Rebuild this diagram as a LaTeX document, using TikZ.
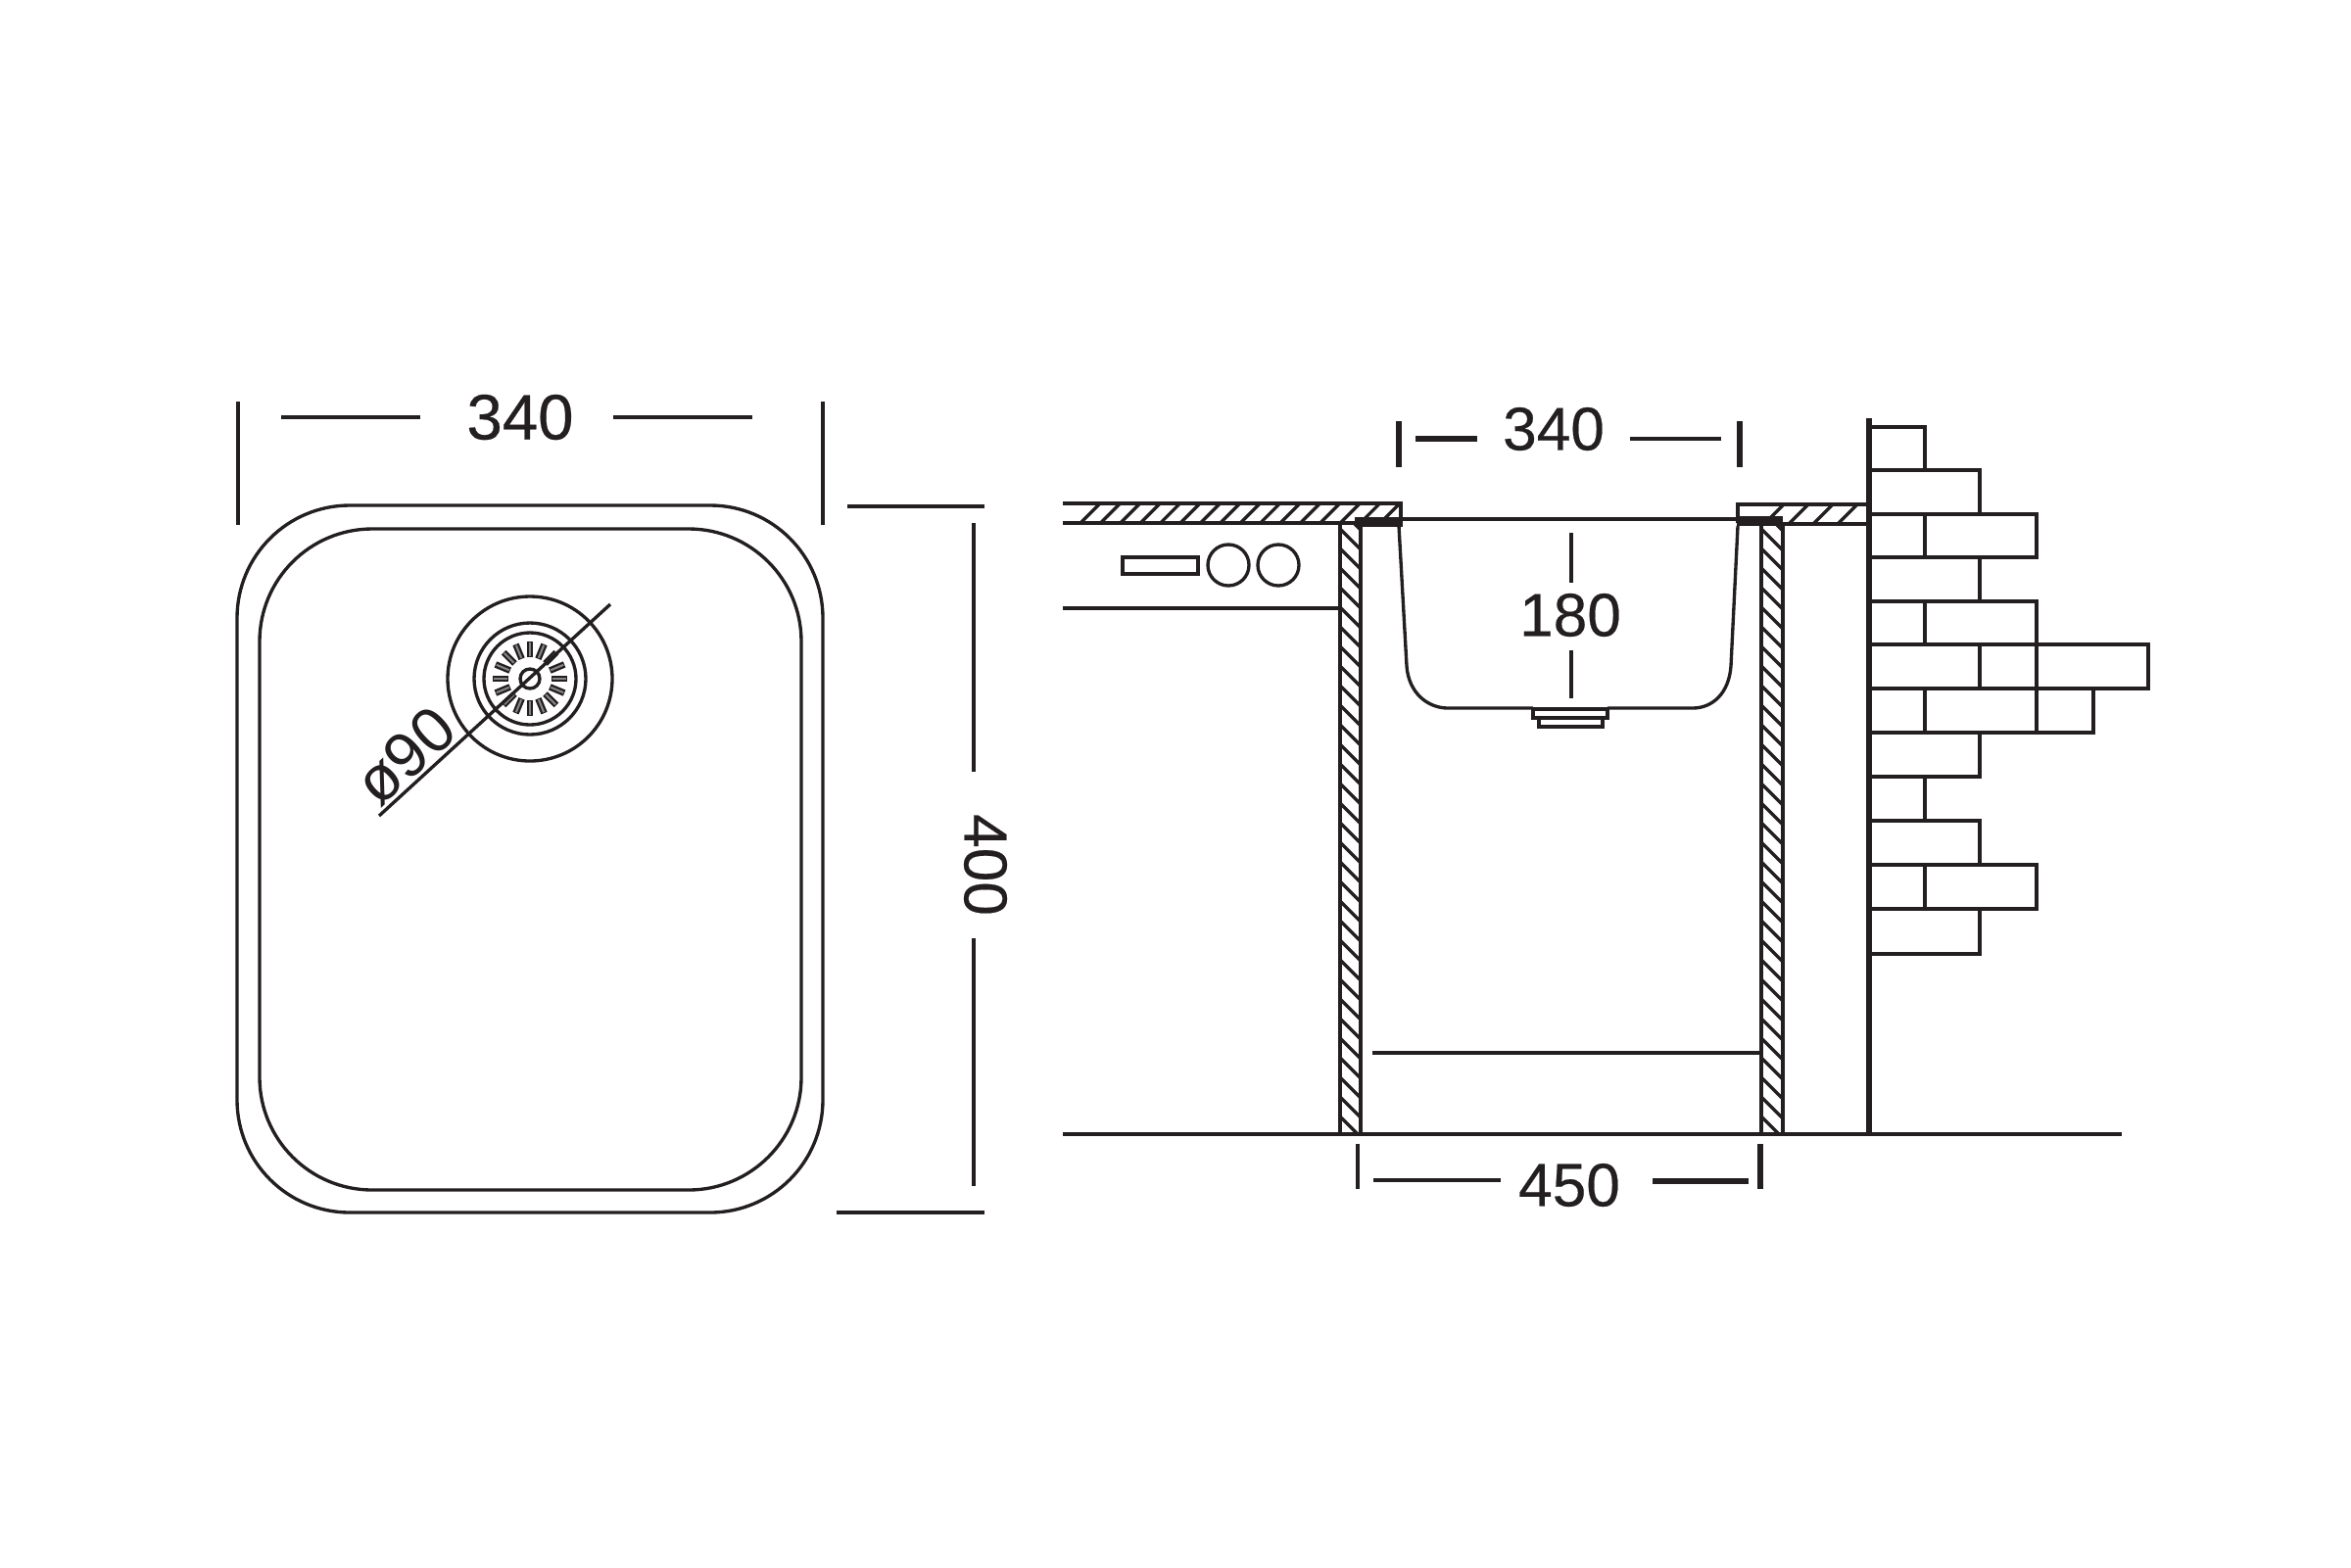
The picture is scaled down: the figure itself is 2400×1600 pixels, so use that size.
\documentclass[tikz,border=0pt]{standalone}
\usepackage{fontspec}
\setmainfont{Liberation Sans}
\newfontfamily\dimfont[FakeBold=0.35]{Liberation Sans}
\definecolor{inkline}{HTML}{231F20}
\tikzset{
  sinkline/.style={draw=inkline,line width=0.95pt},
  dimthin/.style={draw=inkline,line width=0.9pt},
  dimthick/.style={draw=inkline,line width=1.5pt},
  brick/.style={draw=inkline,line width=1.3pt},
  hatch/.style={draw=inkline,line width=0.95pt},
  frame/.style={draw=inkline,line width=1.4pt},
  dimlabel/.style={inner sep=0pt,text=inkline,font=\dimfont\fontsize{18.6}{20}\selectfont},
  sidelabel/.style={inner sep=0pt,text=inkline,font=\dimfont\fontsize{17.7}{20}\selectfont},
}
\begin{document}
\begin{tikzpicture}[x=0.1mm,y=-0.1mm]
\useasboundingbox (0,0) rectangle (2400,1600);

\draw [sinkline,rounded corners=11.5mm] (242,516) rectangle (840,1238);
\draw [sinkline,rounded corners=11.5mm] (265,540) rectangle (818,1215);

\draw [sinkline] (541,693) circle (84);
\draw [sinkline] (541,693) circle (57);
\draw [sinkline] (541,693) circle (47);
\draw [sinkline] (541,693) circle (10);
\foreach \a in {0,22.5,...,337.5} {
  \draw [draw=inkline,line width=1.9pt] ([shift={(\a:22)}]541,693) -- ([shift={(\a:38)}]541,693);
  \draw [draw=inkline!55,line width=0.6pt] ([shift={(\a:23)}]541,693) -- ([shift={(\a:37)}]541,693);
}
\draw [sinkline] (387,833) -- (623,617);
\node (dia) [inner sep=0pt,text=inkline,rotate=42.5,font=\fontsize{18.4}{20}\selectfont] at (414,772) {ø90};

\node (top) [dimlabel] at (531,426) {340};
\draw [dimthin] (243,410) -- (243,536);
\draw [dimthin] (840,410) -- (840,536);
\draw [dimthin] (287,426) -- (429,426);
\draw [dimthin] (626,426) -- (768,426);

\node (side) [sidelabel,rotate=-90] at (1006,883) {400};
\draw [dimthin] (865,517) -- (1005,517);
\draw [dimthin] (854,1238) -- (1005,1238);
\draw [dimthin] (994,534) -- (994,788);
\draw [dimthin] (994,958) -- (994,1211);

\begin{scope}
\clip (1085,514) rectangle (1430,534);
\foreach \x in {1101,1121.4,...,1430}
  \draw [hatch] (\x,536) -- (\x+22,514);
\end{scope}
\begin{scope}
\clip (1776,515) rectangle (1907,535);
\foreach \x in {1800,1825,1850,1875}
  \draw [hatch] (\x,536) -- (\x+21,515);
\end{scope}
\begin{scope}
\clip (1368,536) rectangle (1389,1158);
\foreach \y in {520,540,...,1160}
  \draw [hatch] (1368,\y) -- (1389,\y+21);
\end{scope}
\begin{scope}
\clip (1798,536) rectangle (1820,1158);
\foreach \y in {520,540,...,1160}
  \draw [hatch] (1798,\y) -- (1820,\y+22);
\end{scope}

\draw [frame] (1085,514) -- (1430,514) -- (1430,534);
\draw [frame] (1085,534) -- (1430,534);
\draw [frame] (1907,515) -- (1774,515) -- (1774,534);
\draw [frame] (1820,535) -- (1907,535);
\fill [inkline] (1383,528) rectangle (1432,538);
\fill [inkline] (1773,527) rectangle (1820,537);
\draw [sinkline,line width=1.2pt] (1430,530) -- (1773,530);

\draw [frame] (1368,534) -- (1368,1158);
\draw [frame] (1389,534) -- (1389,1158);
\draw [frame] (1798,534) -- (1798,1158);
\draw [frame] (1820,534) -- (1820,1158);
\draw [frame] (1085,1158) -- (2166,1158);
\draw [sinkline] (1401,1075) -- (1797,1075);
\draw [sinkline] (1085,621) -- (1366,621);

\draw [frame] (1146,569) rectangle (1223,586);
\draw [sinkline] (1254,577) circle (21);
\draw [sinkline] (1305,577) circle (21);

\draw [sinkline] (1428,537) -- (1436,680) .. controls (1438,708) and (1458,723) .. (1478,723) -- (1565,723);
\draw [sinkline] (1774,537) -- (1767,680) .. controls (1765,708) and (1748,723) .. (1728,723) -- (1641,723);
\draw [frame] (1565,724) rectangle (1641,733);
\draw [frame] (1571,733) rectangle (1636,742);

\node (rim) [sidelabel] at (1586,438) {340};
\draw [dimthick] (1428,430) -- (1428,477);
\draw [dimthick] (1776,430) -- (1776,477);
\draw [dimthick] (1445,448) -- (1508,448);
\draw [dimthin] (1664,448) -- (1757,448);

\node (depth) [sidelabel] at (1603,628) {180};
\draw [dimthick,line width=1.15pt] (1604,544) -- (1604,595);
\draw [dimthick,line width=1.15pt] (1604,664) -- (1604,713);

\node (cabinet) [sidelabel] at (1602,1210) {450};
\draw [dimthick,line width=1.15pt] (1386,1168) -- (1386,1214);
\draw [dimthick] (1797,1168) -- (1797,1214);
\draw [dimthick,line width=1.15pt] (1402,1205) -- (1532,1205);
\draw [dimthick] (1687,1206) -- (1785,1206);

\draw [brick,line width=1.5pt] (1908,427) -- (1908,1158);
\draw [brick] (1908,436) rectangle (1965,480);
\draw [brick] (1908,480) rectangle (2021,525);
\draw [brick] (1908,525) rectangle (1965,569);
\draw [brick] (1965,525) rectangle (2079,569);
\draw [brick] (1908,569) rectangle (2021,614);
\draw [brick] (1908,614) rectangle (1965,658);
\draw [brick] (1965,614) rectangle (2079,658);
\draw [brick] (1908,658) rectangle (2021,703);
\draw [brick] (2021,658) rectangle (2079,703);
\draw [brick] (2079,658) rectangle (2193,703);
\draw [brick] (1908,703) rectangle (1965,748);
\draw [brick] (1965,703) rectangle (2079,748);
\draw [brick] (2079,703) rectangle (2137,748);
\draw [brick] (1908,748) rectangle (2021,793);
\draw [brick] (1908,793) rectangle (1965,838);
\draw [brick] (1908,838) rectangle (2021,883);
\draw [brick] (1908,883) rectangle (1965,928);
\draw [brick] (1965,883) rectangle (2079,928);
\draw [brick] (1908,928) rectangle (2021,974);
\end{tikzpicture}
\end{document}
